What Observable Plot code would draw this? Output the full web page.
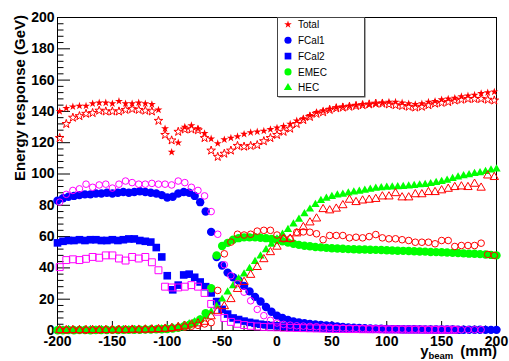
<!DOCTYPE html>
<html><head><meta charset="utf-8">
<script src="https://cdn.jsdelivr.net/npm/d3@7"></script>
<script src="https://cdn.jsdelivr.net/npm/@observablehq/plot@0.6"></script>
<style>body{margin:0;background:#fff;} #chart{width:509px;height:361px;}</style>
</head><body><div id="chart"></div>
<script>
// Bin positions (mm)
const xA = [-198,-192,-186,-180,-174,-168,-162,-156,-150,-144,-138,-132,-126,-120,-114,-108,-102,-96,-90,-84,-78,-72,-66,-60,-54,-48,-42,-36,-30,-24,-18,-12,-6,0,6,12,18,24,30,36,42,48,54,60,66,72,78,84,90,96,102,108,114,120,126,132,138,144,150,156,162,168,174,180,186,192,198];
const xB = [-200,-195,-190,-185,-180,-175,-170,-165,-160,-155,-150,-145,-140,-135,-130,-125,-120,-115,-110,-105,-100,-95,-90,-85,-80,-75,-70,-65,-60,-55,-50,-45,-40,-35,-30,-25,-20,-15,-10,-5,0,5,10,15,20,25,30,35,40,45,50,55,60,65,70,75,80,85,90,95,100,105,110,115,120,125,130,135,140,145,150,155,160,165,170,175,180,185,190,195,200];

// Total (filled / open stars) on xA
const totalFilled = [140,142,143,143.5,143.5,145,145.5,145.5,145,146.5,145,145,145.5,145,144.5,141,129,114,120,130,131,129,126,122.5,119.5,122,123,124,125.5,126.5,127,127.5,128.5,
 129.5,130.5,132,134,135.5,137.5,139.5,140.5,141.5,142.5,143,143.5,144,144.5,144.5,145,145.5,146,146,145.5,145,144.5,145,146,146.5,147.5,148,148.5,149.5,150,150.5,151.5,152,152.5];
const totalOpen = [123,132,136,137,138.5,139,140.5,140,140,140,141,141.5,141,140.5,140,134,125,121.5,127,128.5,128.5,128,123,115,111,113,115,118,117.5,118,118.5,121,123,
 125,127,129,132,134.5,136.5,138.5,139.5,141,142,142.5,143,143.5,144,144.5,145,145,144.5,144,143.5,143,142.5,143,144,145,145.5,146,147,147.5,148,148,148,147.5,147];

// Open series on xA
const fcal1Open = [82,87,89.5,90.5,93.5,91.5,93,93.5,91,93.5,95.5,94.5,93.5,93.5,94,93.5,93.5,93,95.5,94.5,91.5,89.5,86,76,61.5,42,35,30,24.5,19,13.5,9.5,6.5,
 4.8,3.9,3.4,3,2.8,2.6,2.4,2.2,2,1.8,1.6,1.5,1.4,1.3,1.2,1.1,1,1,0.9,0.9,0.8,0.8,0.7,0.7,0.7,0.6,0.6,0.6,0.5,0.5,0.5,0.5,null,null];
const fcal2Open = [40.5,45,45.5,45,45.8,47,46.5,48,48,46,44.7,47,46,47,43.6,38.5,28,27.5,27.5,28,29,28,24,17,12,8,5.5,4.3,3.5,3,2.6,2.3,2.1,
 2,1.8,1.7,1.6,1.5,1.4,1.3,1.2,1.1,1,1,0.9,0.9,0.8,0.8,0.8,0.7,0.7,0.7,0.6,0.6,0.6,0.6,0.5,0.5,0.5,0.5,0.5,null,null,null,null,null,null];
const emecOpen = [0.3,0.2,0.3,0.3,0.2,0.3,0.3,0.4,0.3,0.4,0.4,0.5,0.5,0.6,0.7,0.9,1.1,1.4,1.8,2.2,2.7,3.3,4.2,5,25.6,49,56.5,61.5,61,61.5,63.5,64,64,
 61,58.6,58.6,62.8,63,62.8,61.8,58,60.7,60.7,60.7,59.2,59.6,59.2,60,61.3,59.2,58.6,58.6,58,57.5,56.4,56.4,56.4,55.4,57.5,57.5,53.7,54.3,54.3,54.3,55.8,48.6,48];
const hecOpen = [0.2,0.2,0.3,0.2,0.3,0.3,0.3,0.3,0.4,0.4,0.4,0.5,0.5,0.6,0.7,0.9,1.1,1.5,2.2,3,3.8,4.5,5.5,9,12.5,15.5,20,26.5,31,35.5,40.5,45.5,50,
 53.5,58.6,58.6,62,66,69,71.5,77.5,76.7,77.8,80,83.5,82,83,83.5,84,85.6,85.6,87.7,85,85,87,87,88.4,88.4,89.5,90.5,91.6,92,91.6,93.7,91.2,99,98];

// Filled series on xB
const fcal1Filled = [83,84.5,85.5,86,86.5,87,87,87.5,87.5,88,87.5,88,88.5,88,88.5,89,88.5,88,87.5,86.5,85,85.5,87.5,88.5,88,86,82,76,63,47,41.5,37,34,32,28.5,25,21.5,18.5,15,12,
 9.5,8,6.7,5.8,5.2,4.6,4.2,3.8,3.5,3.2,3,2.6,2.3,2,1.8,1.6,1.4,1.3,1.2,1.1,1,0.9,0.9,0.8,0.8,0.8,0.7,0.7,0.7,0.6,0.6,0.6,0.6,0.5,0.5,0.5,0.5,0.5,0.4,0.4,0.4];
const fcal2Filled = [56,57,57.5,57.5,58,57.5,58,58,57.5,57.5,58,57.5,58,58.5,58.5,57.5,57,56.5,53,47,35,26,29,35.5,36,34,31,28,24,18.5,13.5,10.5,8,7,6,5.2,4.6,4,3.6,3.2,
 3,2.7,2.4,2.2,2,1.8,1.7,1.6,1.5,1.4,1.3,1.2,1.1,1,1,0.9,0.9,0.8,0.8,0.8,0.7,0.7,0.7,0.6,0.6,0.6,0.6,0.5,0.5,0.5,0.5,0.5,0.5,0.4,null,null,null,null,null,null,null];
const emecFilled = [0.2,0.2,0.3,0.2,0.3,0.3,0.2,0.3,0.3,0.3,0.4,0.3,0.4,0.4,0.5,0.5,0.6,0.6,0.7,0.8,1,1.3,1.8,2.6,3.6,5,7,11,27,48,54,56,58,59,59.5,59.5,59.5,59.3,59,58.5,
 57.8,57,56.2,55.4,54.7,54.2,53.8,53.4,53.1,52.8,52.6,52.4,52.2,52,51.9,51.8,51.8,51.6,51.5,51.4,51.3,51.1,51,50.9,50.8,50.6,50.5,50.4,50.2,50.1,50,49.8,49.6,49.5,49.3,49.1,49,48.8,48.6,48.3,48];
const hecFilled = [0.2,0.2,0.2,0.3,0.2,0.3,0.3,0.3,0.3,0.4,0.3,0.4,0.4,0.4,0.5,0.5,0.6,0.7,0.8,1,1.3,1.8,2.4,3.2,4.2,5.5,7,9,12,15.5,20,24.5,28.5,33,36,39.5,44,47.5,51.5,55,
 58.5,61.5,64.5,68,71,74.5,77.5,80.5,83,84.5,85.5,86.5,87,87.8,88.5,89,89.5,90.2,90.8,91.2,91.5,91.6,91.8,92,92.3,92.6,93,93.3,93.8,94.5,95.2,96,97,98,98.8,99.5,100.2,100.8,101.6,102.5,103.2];

const yTicks = [0,20,40,60,80,100,120,140,160,180,200];
const xTicks = [-200,-150,-100,-50,0,50,100,150,200];
const legendLabels = ["Total","FCal1","FCal2","EMEC","HEC"];
const legendSymbols = ["star","circle","square","circle","triangle"];
const legendColors = ["#ff0000","#0000ff","#0000ff","#00ff00","#00ff00"];

const RED = "#ff0000", BLUE = "#0000ff", MAG = "#ff00ff", GREEN = "#00ff00";
const yMinor = d3.range(0, 201, 4).filter(v => v % 20 !== 0);
const xMinor = d3.range(-200, 201, 10).filter(v => v % 50 !== 0);

const table = (xs, ys) => xs.map((x, i) => ({x, y: ys[i]})).filter(d => d.y != null);
const filled = (xs, ys, symbol, r, color) => Plot.dot(table(xs, ys), {x: "x", y: "y", symbol, r, fill: color, stroke: "none"});
const open = (xs, ys, symbol, r, color) => Plot.dot(table(xs, ys), {x: "x", y: "y", symbol, r, fill: "none", stroke: color, strokeWidth: 1});

const fmt = d => String(d);
const chart = Plot.plot({
  width: 509, height: 361,
  marginLeft: 57, marginRight: 13, marginTop: 17, marginBottom: 31,
  x: {domain: [-200, 200]},
  y: {domain: [0, 200]},
  style: {background: "#fff", color: "#000", fontFamily: "'Liberation Sans', Arial, sans-serif", fontSize: "14px", overflow: "visible"},
  marks: [
    Plot.frame({stroke: "#000", strokeWidth: 1}),
    Plot.axisY({ticks: yMinor, tickSize: -6.5, fill: "none", label: null}),
    Plot.axisY({ticks: yTicks, tickSize: -13, fill: "none", label: null}),
    Plot.axisY({ticks: yTicks, tickSize: 0, tickPadding: 3, label: null, fontWeight: "bold", fontSize: 14, tickFormat: fmt}),
    Plot.axisX({ticks: xMinor, tickSize: -4.5, fill: "none", label: null}),
    Plot.axisX({ticks: xTicks, tickSize: -9, fill: "none", label: null}),
    Plot.axisX({ticks: xTicks, tickSize: 0, tickPadding: 6, label: null, fontWeight: "bold", fontSize: 14, tickFormat: fmt}),
    filled(xB, fcal1Filled, "circle", 4.2, BLUE),
    filled(xB, fcal2Filled, "square", 4.3, BLUE),
    filled(xB, emecFilled, "circle", 4.2, GREEN),
    filled(xB, hecFilled, "triangle", 3.1, GREEN),
    open(xA, fcal1Open, "circle", 3.3, MAG),
    open(xA, fcal2Open, "square", 3.9, MAG),
    open(xA, emecOpen, "circle", 3.3, RED),
    open(xA, hecOpen, "triangle", 3.1, RED),
    filled(xA, totalFilled, "star", 2.5, RED),
    open(xA, totalOpen, "star", 2.7, RED)
  ]
});
document.getElementById("chart").appendChild(chart);

const svg = d3.select(chart);
svg.append("text")
  .attr("transform", "translate(25,15) rotate(-90)")
  .attr("text-anchor", "end").attr("font-weight", "bold").attr("font-size", 15)
  .attr("fill", "#000").text("Energy response (GeV)");
const xt = svg.append("text").attr("x", 497).attr("y", 355.5)
  .attr("text-anchor", "end").attr("font-weight", "bold").attr("font-size", 15).attr("fill", "#000");
xt.append("tspan").text("y");
xt.append("tspan").attr("font-size", 9.5).attr("dy", 3.5).text("beam");
xt.append("tspan").attr("dy", -3.5).attr("dx", 7).text("(mm)");

// Legend box
const symMap = {star: d3.symbolStar, circle: d3.symbolCircle, square: d3.symbolSquare, triangle: d3.symbolTriangle};
const symSize = {star: 18, circle: 40, square: 45, triangle: 30};
const lg = svg.append("g").attr("text-anchor", "start");
lg.append("rect").attr("x", 278.5).attr("y", 18.5).attr("width", 87).attr("height", 79).attr("fill", "#555");
lg.append("rect").attr("x", 277.5).attr("y", 17.5).attr("width", 87).attr("height", 79).attr("fill", "#fff").attr("stroke", "#444").attr("stroke-width", 1);
legendLabels.forEach((label, i) => {
  const cy = 24.5 + i * 15.8;
  lg.append("path").attr("transform", `translate(288,${cy})`)
    .attr("d", d3.symbol(symMap[legendSymbols[i]], symSize[legendSymbols[i]])())
    .attr("fill", legendColors[i]);
  lg.append("text").attr("x", 298).attr("y", cy + 3.6).attr("font-size", 10)
    .attr("text-anchor", "start")
    .attr("font-family", "'Liberation Sans', Arial, sans-serif").attr("fill", "#000").text(label);
});
</script></body></html>
